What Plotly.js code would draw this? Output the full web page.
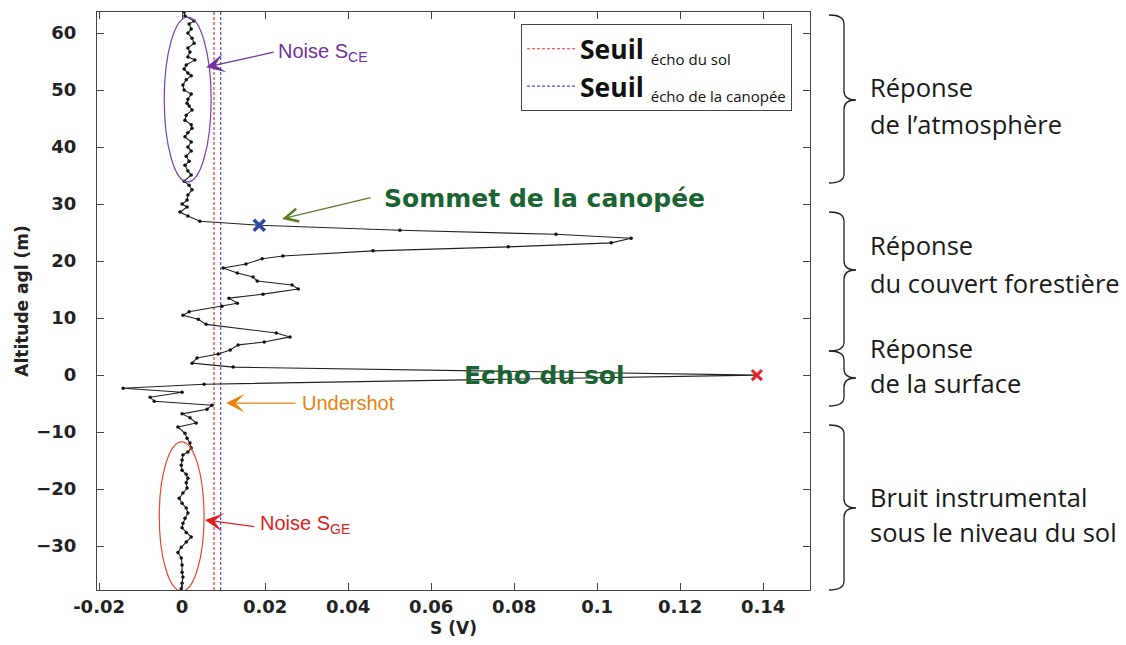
<!DOCTYPE html>
<html>
<head>
<meta charset="utf-8">
<script src="https://cdn.plot.ly/plotly-3.0.1.min.js"></script>
<style>html,body{margin:0;padding:0;background:#fff;}#chart{width:1126px;height:645px;}</style>
</head>
<body>
<div id="chart"></div>
<script>
// ---- data ----
const altitude = [63.7,63.0,62.1,61.6,60.7,60.0,59.1,58.2,57.4,56.7,55.8,55.3,54.4,53.7,53.0,52.5,51.8,50.9,50.0,49.3,48.4,47.7,47.2,46.5,45.6,44.7,43.9,43.3,42.5,41.8,40.9,40.0,39.3,38.4,37.5,36.8,35.8,35.1,34.0,33.3,32.5,31.6,30.7,30.0,29.5,28.6,27.9,27.0,26.3,25.4,24.7,24.0,23.2,22.5,21.8,20.9,20.4,19.5,18.8,17.9,17.2,16.5,15.8,15.1,14.2,13.5,12.6,12.1,11.1,10.5,9.8,8.9,7.4,6.7,5.8,5.3,4.4,3.7,3.0,2.1,1.4,0.0,-1.6,-2.3,-3.0,-3.9,-4.6,-5.3,-6.0,-6.8,-7.5,-8.4,-9.1,-10.2,-11.1,-11.9,-12.8,-13.5,-14.0,-14.9,-15.8,-16.7,-17.4,-18.1,-18.9,-19.8,-20.7,-21.6,-22.5,-23.3,-24.2,-25.1,-26.0,-26.8,-27.6,-28.4,-29.3,-30.2,-31.1,-32.1,-33.3,-34.6,-35.4,-36.5,-37.5];
const signal = [0.0005,0.0007,0.0029,0.0017,0.0022,0.0014,0.0024,0.0029,0.0014,0.0019,0.0014,0.0031,0.0010,0.0005,0.0014,0.0022,0.0010,0.0002,0.0005,0.0022,0.0014,0.0012,0.0017,0.0024,0.0010,0.0007,0.0022,0.0024,0.0014,0.0007,0.0022,0.0014,0.0022,0.0010,0.0017,0.0007,0.0014,0.0022,0.0005,0.0017,0.0024,0.0014,0.0012,0.0000,0.0012,-0.0005,0.0014,0.0043,0.0186,0.0525,0.0901,0.1082,0.1034,0.0786,0.0460,0.0243,0.0193,0.0154,0.0099,0.0133,0.0171,0.0181,0.0265,0.0280,0.0195,0.0113,0.0133,0.0096,0.0017,0.0002,0.0039,0.0058,0.0227,0.0260,0.0198,0.0135,0.0116,0.0087,0.0036,0.0024,0.0123,0.1385,0.0053,-0.0142,0.0000,-0.0077,-0.0067,0.0072,0.0060,0.0000,0.0019,0.0034,-0.0010,0.0007,0.0012,0.0019,0.0022,0.0014,0.0002,0.0000,-0.0002,0.0000,0.0010,0.0014,0.0010,0.0012,0.0002,-0.0007,0.0000,0.0010,0.0014,0.0007,0.0002,0.0000,0.0010,0.0022,0.0010,-0.0002,-0.0010,-0.0002,0.0000,0.0000,0.0002,0.0000,-0.0002];

const thresholdGround = 0.0077;   // Seuil écho du sol
const thresholdCanopy = 0.0093;   // Seuil écho de la canopée
const canopyTop = {s: 0.0186, alt: 26.3};
const groundEcho = {s: 0.1385, alt: 0.0};

const xTickVals = [-0.02,0,0.02,0.04,0.06,0.08,0.1,0.12,0.14];
const xTickText = ["-0.02","0","0.02","0.04","0.06","0.08","0.1","0.12","0.14"];
const yTickVals = [-30,-20,-10,0,10,20,30,40,50,60];

const legendLabels = [
  '<b>Seuil</b> <sub><span style="font-size:15px">écho du sol</span></sub>',
  '<b>Seuil</b> <sub><span style="font-size:15px">écho de la canopée</span></sub>'
];
const zoneLabels = [
  ["Réponse","de l’atmosphère"],
  ["Réponse","du couvert forestière"],
  ["Réponse","de la surface"],
  ["Bruit instrumental","sous le niveau du sol"]
];

// ---- layout geometry ----
const W=1126, H=645, L=97, R=810, T=12, B=590;
const xRange=[-0.0205,0.1513], yRange=[-37.7,63.7];
const px = x => (x-L)/(R-L);
const py = y => (B-y)/(B-T);

function bracePath(top, bottom, mid){
  const xt=829, xv=844, xp=856, r=9;
  const P=(x,y)=>px(x).toFixed(5)+','+py(y).toFixed(5);
  return 'M'+P(xt,top)+' Q'+P(xv,top)+' '+P(xv,top+r)+
         ' L'+P(xv,mid-r)+' Q'+P(xv,mid)+' '+P(xp,mid)+
         ' Q'+P(xv,mid)+' '+P(xv,mid+r)+
         ' L'+P(xv,bottom-r)+' Q'+P(xv,bottom)+' '+P(xt,bottom);
}
const braces = [[15,183,100],[212,351,270],[351,406,378],[425,590,508]];
const zoneTextY = [[87,124],[245,283],[348,383],[497,532]];

const traces = [
  {x:[thresholdGround,thresholdGround], y:yRange, mode:'lines', name:legendLabels[0],
   line:{color:'#e8323c', width:1.2, dash:'3px,2px'}, legendgroup:'a', hoverinfo:'skip'},
  {x:[thresholdCanopy,thresholdCanopy], y:yRange, mode:'lines', name:legendLabels[1],
   line:{color:'#4a52c0', width:1.2, dash:'3px,2px'}, legendgroup:'b', hoverinfo:'skip'},
  {x:signal, y:altitude, mode:'lines+markers', showlegend:false,
   line:{color:'#222', width:1.1}, marker:{color:'#111', size:3.5}},
  {x:[canopyTop.s], y:[canopyTop.alt], mode:'markers', showlegend:false,
   marker:{symbol:'x-thin', size:11, color:'#2f4aa0', line:{width:3.5, color:'#2f4aa0'}}},
  {x:[groundEcho.s], y:[groundEcho.alt], mode:'markers', showlegend:false,
   marker:{symbol:'x-thin', size:10, color:'#e8202a', line:{width:3, color:'#e8202a'}}}
];

const annotations = [];
function arrow(hx,hy,tx,ty,color,head,size){
  annotations.push({x:hx,y:hy,ax:tx,ay:ty,axref:'x',ayref:'y',xref:'x',yref:'y',text:'',
    showarrow:true,arrowhead:head,arrowsize:size,arrowwidth:1.3,arrowcolor:color});
}
function label(x,y,text,color,size,family,weight){
  annotations.push({x:x,y:y,xref:'x',yref:'y',text:text,showarrow:false,xanchor:'left',yanchor:'middle',
    font:{color:color,size:size,family:family,weight:weight||'normal'}});
}
arrow(0.0058,54.0,0.0224,56.7,'#7030a0',3,2.4);
label(0.0226,56.6,'Noise S<sub>CE</sub>','#7030a0',20,'Liberation Sans');
arrow(0.0241,27.4,0.0458,31.2,'#5b7b2b',5,2.0);
label(0.0482,31.0,'Sommet de la canopée','#1a6332',25,'DejaVu Sans','bold');
label(0.0675,0.0,'Echo du sol','#1a6332',25,'DejaVu Sans','bold');
arrow(0.0106,-4.9,0.0277,-4.9,'#e8820c',3,2.4);
label(0.0283,-4.9,'Undershot','#e8820c',20,'Liberation Sans');
arrow(0.0055,-25.4,0.0178,-26.6,'#e02020',3,2.4);
label(0.0183,-26.2,'Noise S<sub>GE</sub>','#e02020',20,'Liberation Sans');

zoneLabels.forEach((lines,i)=>{
  lines.forEach((t,j)=>{
    annotations.push({xref:'paper',yref:'paper',x:px(868),y:py(zoneTextY[i][j]),text:t,showarrow:false,
      xanchor:'left',yanchor:'middle',font:{family:'Open Sans',size:25.5,color:'#1a1a1a'}});
  });
});

const shapes = braces.map(b=>({type:'path',xref:'paper',yref:'paper',path:bracePath(b[0],b[1],b[2]),
  line:{color:'#222',width:1.3}}));

// ellipses (noise regions)
shapes.push({type:'circle',xref:'x',yref:'y',x0:-0.0043,x1:0.0070,y0:33.9,y1:62.8,line:{color:'#7d3fae',width:1.2}});
shapes.push({type:'circle',xref:'x',yref:'y',x0:-0.0055,x1:0.0053,y0:-37.9,y1:-11.7,line:{color:'#e8452f',width:1.2}});

const axisFont = {family:'DejaVu Sans', size:18, color:'#222', weight:'bold'};
const titleFont = {family:'DejaVu Sans', size:17, color:'#222', weight:'bold'};
const layout = {
  width:W, height:H,
  margin:{l:L, r:W-R, t:T, b:H-B},
  paper_bgcolor:'#fff', plot_bgcolor:'#fff',
  showlegend:true,
  legend:{x:px(521), y:py(24), xanchor:'left', yanchor:'top', bordercolor:'#444', borderwidth:1,
    bgcolor:'#fff', font:{family:'Open Sans', size:26.5, color:'#111'}, tracegroupgap:0,
    itemwidth:48},
  xaxis:{range:xRange, tickvals:xTickVals, ticktext:xTickText, ticks:'inside', ticklen:7, tickcolor:'#444',
    showline:true, linecolor:'#444', linewidth:1, mirror:'ticks', showgrid:false, zeroline:false,
    tickfont:axisFont, automargin:false,
    title:{text:'S (V)', font:titleFont, standoff:6}},
  yaxis:{range:yRange, tickvals:yTickVals, ticks:'inside', ticklen:7, tickcolor:'#444',
    showline:true, linecolor:'#444', linewidth:1, mirror:'ticks', showgrid:false, zeroline:false,
    tickfont:axisFont, automargin:false, ticklabelstandoff:16,
    title:{text:'Altitude agl (m)', font:titleFont, standoff:3}},
  shapes:shapes,
  annotations:annotations
};
Plotly.newPlot('chart', traces, layout, {displayModeBar:false, staticPlot:true});
</script>
</body>
</html>
